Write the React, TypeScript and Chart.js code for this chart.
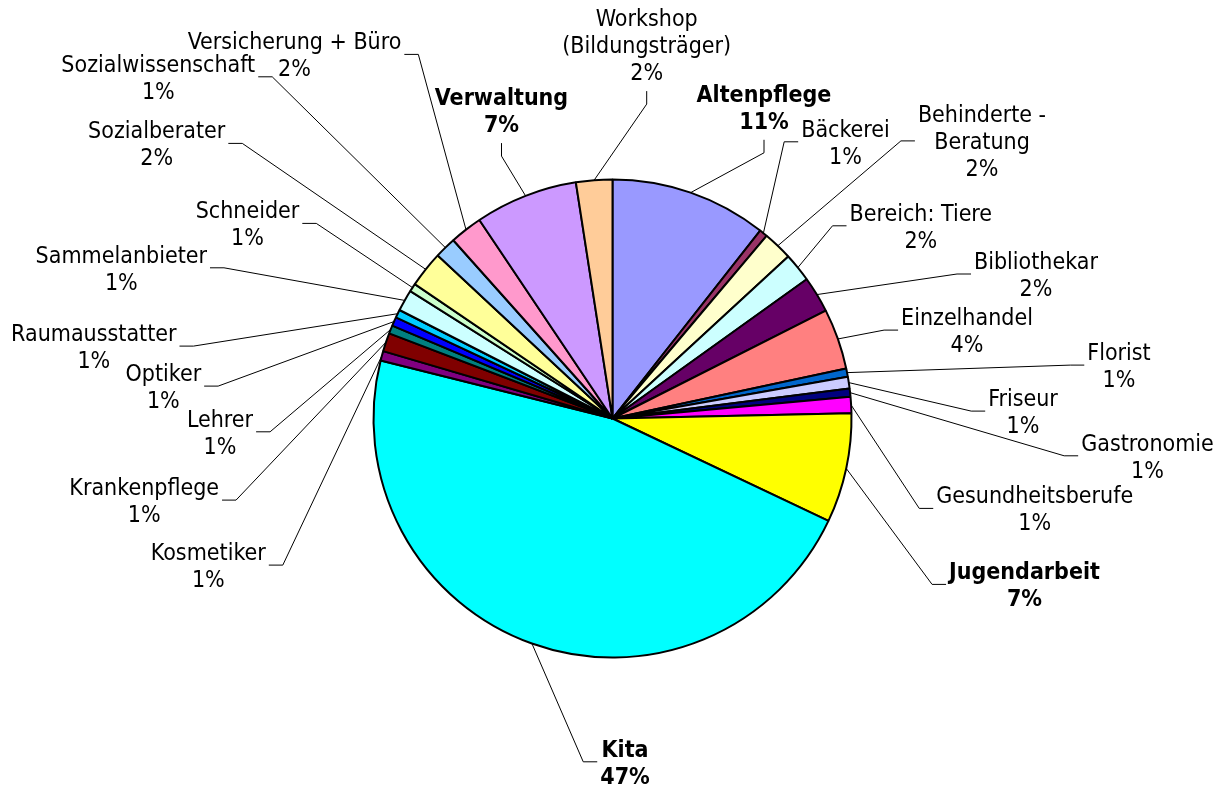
import React, { useEffect, useRef } from "react";
import { Chart, registerables } from "chart.js";

Chart.register(...registerables);

// ---------- data ----------
const categories = [
  "Altenpflege",
  "Bäckerei",
  "Behinderte - Beratung",
  "Bereich: Tiere",
  "Bibliothekar",
  "Einzelhandel",
  "Florist",
  "Friseur",
  "Gastronomie",
  "Gesundheitsberufe",
  "Jugendarbeit",
  "Kita",
  "Kosmetiker",
  "Krankenpflege",
  "Lehrer",
  "Optiker",
  "Raumausstatter",
  "Sammelanbieter",
  "Schneider",
  "Sozialberater",
  "Sozialwissenschaft",
  "Versicherung + Büro",
  "Verwaltung",
  "Workshop (Bildungsträger)",
];

const shares = [
  10.6, 0.55, 2.0, 1.95, 2.45, 4.1, 0.55, 0.8, 0.55, 1.1, 7.4, 46.85, 0.65,
  1.25, 0.55, 0.6, 0.55, 1.45, 0.55, 2.45, 1.45, 2.2, 6.95, 2.45,
];

const sliceColors = [
  "#9999FF", "#993366", "#FFFFCC", "#CCFFFF", "#660066", "#FF8080",
  "#0066CC", "#CCCCFF", "#000080", "#FF00FF", "#FFFF00", "#00FFFF",
  "#800080", "#800000", "#008080", "#0000FF", "#00CCFF", "#CCFFFF",
  "#CCFFCC", "#FFFF99", "#99CCFF", "#FF99CC", "#CC99FF", "#FFCC99",
];

const boldCategories = ["Altenpflege", "Jugendarbeit", "Kita", "Verwaltung"];

// ---------- label layout (offset of label block centre from pie centre, leader side, wrap width) ----------
type Side = "l" | "r" | "b";
const labelLayout: [number, number, Side, number][] = [
  [151.5, -311.7, "b", 0],
  [233, -276.7, "l", 0],
  [369.5, -277.6, "l", 180],
  [308.3, -192.7, "l", 0],
  [423.5, -144.5, "l", 0],
  [354.5, -88.4, "l", 0],
  [506.5, -53.4, "l", 0],
  [410.5, -7.4, "l", 0],
  [535, 37.3, "l", 0],
  [422.2, 89.9, "l", 0],
  [412, 165.9, "l", 0],
  [12.5, 343.3, "l", 0],
  [-404.2, 146.6, "r", 0],
  [-468.3, 81.6, "r", 0],
  [-392.5, 13.3, "r", 0],
  [-449.2, -32.4, "r", 0],
  [-518.7, -72.4, "r", 0],
  [-491.2, -150.7, "r", 0],
  [-365, -195.1, "r", 0],
  [-455.8, -275.1, "r", 0],
  [-454.2, -341.7, "r", 0],
  [-318, -364.1, "r", 0],
  [-111, -308.4, "b", 0],
  [34.2, -373.9, "b", 180],
];

const FONT_SIZE = 23;
const FONT_FAMILY = '"DejaVu Sans Condensed", "DejaVu Sans", sans-serif';
const LINE_H = 27;
const CAP_HALF = 8.4;
const SIDE_GAP = 3;
const SIDE_STUB = 14;
const BOTTOM_GAP = 6;
const BOTTOM_STUB = 13;

function wrapText(ctx: CanvasRenderingContext2D, text: string, maxW: number): string[] {
  if (!maxW) return [text];
  const words = text.split(" ");
  const lines: string[] = [];
  let cur = "";
  for (const w of words) {
    const test = cur ? cur + " " + w : w;
    if (cur && ctx.measureText(test).width > maxW) {
      lines.push(cur);
      cur = w;
    } else {
      cur = test;
    }
  }
  if (cur) lines.push(cur);
  return lines;
}

const leaderLabels = {
  id: "leaderLabels",
  afterDatasetsDraw(chart: any) {
    const ctx: CanvasRenderingContext2D = chart.ctx;
    const meta = chart.getDatasetMeta(0);
    const data = chart.data.datasets[0].data as number[];
    const total = data.reduce((a, b) => a + b, 0);
    ctx.save();
    meta.data.forEach((el: any, i: number) => {
      const { x, y, startAngle, endAngle, outerRadius } = el.getProps(
        ["x", "y", "startAngle", "endAngle", "outerRadius"],
        true
      );
      const mid = (startAngle + endAngle) / 2;
      const ax = x + Math.cos(mid) * outerRadius;
      const ay = y + Math.sin(mid) * outerRadius;
      const [dx, dy, side, wrap] = labelLayout[i];
      const cx = x + dx;
      const cy = y + dy;
      const bold = boldCategories.includes(categories[i]);
      ctx.font = `${bold ? "bold " : ""}${FONT_SIZE}px ${FONT_FAMILY}`;
      const lines = wrapText(ctx, categories[i], wrap);
      lines.push(Math.round((data[i] / total) * 100) + "%");
      const w = Math.max(...lines.map((l) => ctx.measureText(l).width));
      const h = lines.length * LINE_H;

      let sx: number, sy: number, ex: number, ey: number;
      if (side === "r") {
        sx = cx + w / 2 + SIDE_GAP; sy = cy; ex = sx + SIDE_STUB; ey = cy;
      } else if (side === "l") {
        sx = cx - w / 2 - SIDE_GAP; sy = cy; ex = sx - SIDE_STUB; ey = cy;
      } else {
        sx = cx; sy = cy + h / 2 + BOTTOM_GAP; ex = cx; ey = sy + BOTTOM_STUB;
      }
      ctx.beginPath();
      ctx.moveTo(sx, sy);
      ctx.lineTo(ex, ey);
      ctx.lineTo(ax, ay);
      ctx.strokeStyle = "#000";
      ctx.lineWidth = 1;
      ctx.stroke();

      ctx.fillStyle = "#000";
      ctx.textAlign = "center";
      ctx.textBaseline = "alphabetic";
      const firstBase = cy - ((lines.length - 1) * LINE_H) / 2 + CAP_HALF;
      lines.forEach((l, k) => ctx.fillText(l, cx, firstBase + k * LINE_H));
    });
    ctx.restore();
  },
};

export default function App() {
  const canvasRef = useRef<HTMLCanvasElement | null>(null);

  useEffect(() => {
    if (!canvasRef.current) return;
    const chart = new Chart(canvasRef.current, {
      type: "pie",
      data: {
        labels: categories,
        datasets: [
          {
            data: shares,
            backgroundColor: sliceColors,
            borderColor: "#000",
            borderWidth: 2,
          },
        ],
      },
      options: {
        responsive: false,
        maintainAspectRatio: false,
        animation: false,
        layout: { padding: { top: 178.5, bottom: 128.5, left: 1, right: 0 } },
        plugins: {
          legend: { display: false },
          tooltip: { enabled: false },
        },
      },
      plugins: [leaderLabels],
    });
    return () => chart.destroy();
  }, []);

  return (
    <div
      style={{
        position: "fixed",
        left: 0,
        top: 0,
        width: 1224,
        height: 787,
        background: "#fff",
      }}
    >
      <canvas ref={canvasRef} width={1224} height={787} />
    </div>
  );
}
